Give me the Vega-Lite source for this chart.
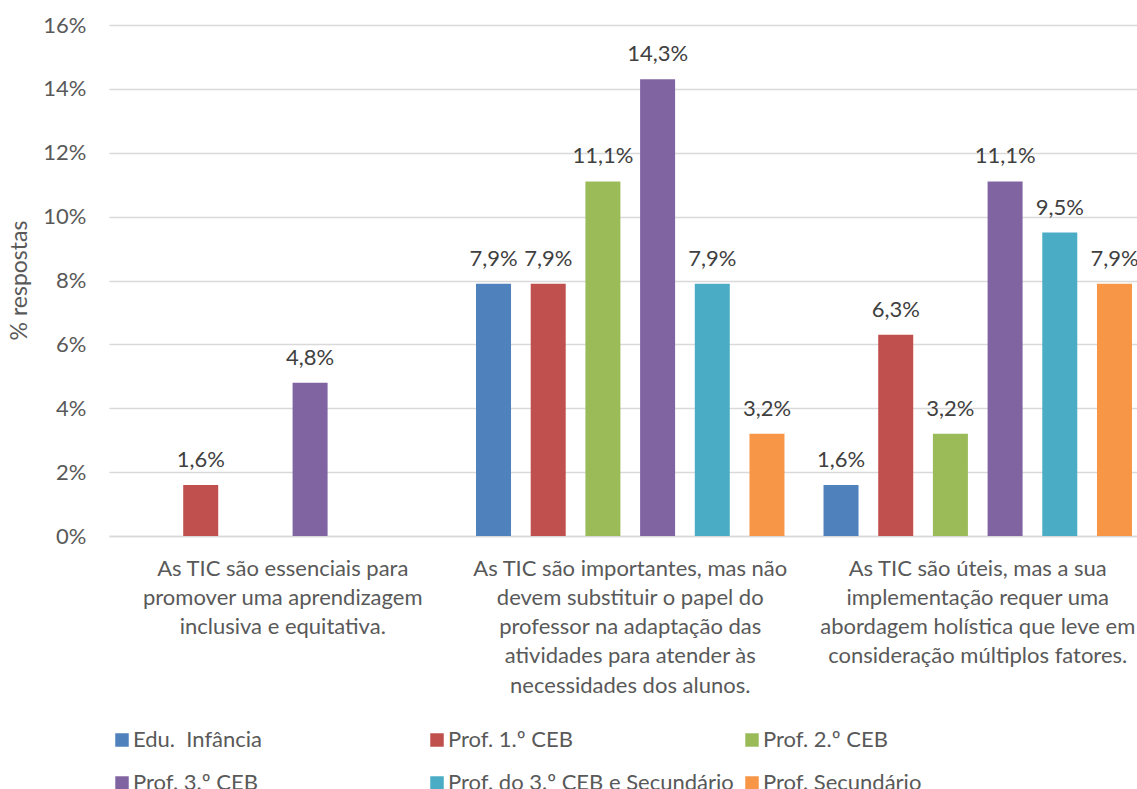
{
  "$schema": "https://vega.github.io/schema/vega-lite/v6.json",
  "autosize": {"type": "none"},
  "padding": {"left": 109, "top": 25, "right": 0, "bottom": 253},
  "width": 1028,
  "height": 511,
  "background": "white",
  "data": {
    "values": [
      {"pergunta": "As TIC são essenciais para promover uma aprendizagem inclusiva e equitativa.", "grupo": "Prof. 1.º CEB", "pct": 0.016},
      {"pergunta": "As TIC são essenciais para promover uma aprendizagem inclusiva e equitativa.", "grupo": "Prof. 3.º CEB", "pct": 0.048},
      {"pergunta": "As TIC são importantes, mas não devem substituir o papel do professor na adaptação das atividades para atender às necessidades dos alunos.", "grupo": "Edu.  Infância", "pct": 0.079},
      {"pergunta": "As TIC são importantes, mas não devem substituir o papel do professor na adaptação das atividades para atender às necessidades dos alunos.", "grupo": "Prof. 1.º CEB", "pct": 0.079},
      {"pergunta": "As TIC são importantes, mas não devem substituir o papel do professor na adaptação das atividades para atender às necessidades dos alunos.", "grupo": "Prof. 2.º CEB", "pct": 0.111},
      {"pergunta": "As TIC são importantes, mas não devem substituir o papel do professor na adaptação das atividades para atender às necessidades dos alunos.", "grupo": "Prof. 3.º CEB", "pct": 0.143},
      {"pergunta": "As TIC são importantes, mas não devem substituir o papel do professor na adaptação das atividades para atender às necessidades dos alunos.", "grupo": "Prof. do 3.º CEB e Secundário", "pct": 0.079},
      {"pergunta": "As TIC são importantes, mas não devem substituir o papel do professor na adaptação das atividades para atender às necessidades dos alunos.", "grupo": "Prof. Secundário", "pct": 0.032},
      {"pergunta": "As TIC são úteis, mas a sua implementação requer uma abordagem holística que leve em consideração múltiplos fatores.", "grupo": "Edu.  Infância", "pct": 0.016},
      {"pergunta": "As TIC são úteis, mas a sua implementação requer uma abordagem holística que leve em consideração múltiplos fatores.", "grupo": "Prof. 1.º CEB", "pct": 0.063},
      {"pergunta": "As TIC são úteis, mas a sua implementação requer uma abordagem holística que leve em consideração múltiplos fatores.", "grupo": "Prof. 2.º CEB", "pct": 0.032},
      {"pergunta": "As TIC são úteis, mas a sua implementação requer uma abordagem holística que leve em consideração múltiplos fatores.", "grupo": "Prof. 3.º CEB", "pct": 0.111},
      {"pergunta": "As TIC são úteis, mas a sua implementação requer uma abordagem holística que leve em consideração múltiplos fatores.", "grupo": "Prof. do 3.º CEB e Secundário", "pct": 0.095},
      {"pergunta": "As TIC são úteis, mas a sua implementação requer uma abordagem holística que leve em consideração múltiplos fatores.", "grupo": "Prof. Secundário", "pct": 0.079}
    ]
  },
  "encoding": {
    "x": {
      "field": "pergunta",
      "type": "nominal",
      "sort": null,
      "scale": {"paddingInner": 0, "paddingOuter": 0, "range": [0, 1042.5]},
      "axis": {
        "title": null,
        "labelAngle": 0,
        "labelFont": "Lato",
        "labelFontSize": 22,
        "labelColor": "#595959",
        "labelLimit": 0,
        "labelLineHeight": 29.3,
        "labelBaseline": "alphabetic",
        "labelPadding": 39,
        "ticks": false,
        "domain": true,
        "domainColor": "#d9d9d9",
        "domainWidth": 1.3,
        "labelExpr": "datum.value == 'As TIC são essenciais para promover uma aprendizagem inclusiva e equitativa.' ? ['As TIC são essenciais para', 'promover uma aprendizagem', 'inclusiva e equitativa.'] : datum.value == 'As TIC são importantes, mas não devem substituir o papel do professor na adaptação das atividades para atender às necessidades dos alunos.' ? ['As TIC são importantes, mas não', 'devem substituir o papel do', 'professor na adaptação das', 'atividades para atender às', 'necessidades dos alunos.'] : ['As TIC são úteis, mas a sua', 'implementação requer uma', 'abordagem holística que leve em', 'consideração múltiplos fatores.']"
      }
    },
    "xOffset": {
      "field": "grupo",
      "type": "nominal",
      "scale": {
        "domain": ["Edu.  Infância", "Prof. 1.º CEB", "Prof. 2.º CEB", "Prof. 3.º CEB", "Prof. do 3.º CEB e Secundário", "Prof. Secundário"],
        "paddingInner": 0.36,
        "paddingOuter": 0.357
      }
    },
    "y": {
      "field": "pct",
      "type": "quantitative",
      "scale": {"domain": [0, 0.16], "nice": false},
      "axis": {
        "values": [0, 0.02, 0.04, 0.06, 0.08, 0.1, 0.12, 0.14, 0.16],
        "format": ".0%",
        "title": "% respostas",
        "titleFont": "Lato",
        "titleFontSize": 23,
        "titleFontWeight": "normal",
        "titleColor": "#595959",
        "titleX": -78,
        "titleY": 255,
        "titleAngle": -90,
        "titleAlign": "center",
        "titleBaseline": "bottom",
        "labelFont": "Lato",
        "labelFontSize": 22,
        "labelColor": "#595959",
        "labelPadding": 23,
        "ticks": false,
        "domain": false,
        "grid": true,
        "gridColor": "#d9d9d9",
        "gridWidth": 1.3
      }
    }
  },
  "layer": [
    {
      "mark": {"type": "bar"},
      "encoding": {
        "color": {
          "field": "grupo",
          "type": "nominal",
          "scale": {
            "domain": ["Edu.  Infância", "Prof. 1.º CEB", "Prof. 2.º CEB", "Prof. 3.º CEB", "Prof. do 3.º CEB e Secundário", "Prof. Secundário"],
            "range": ["#4f81bd", "#c0504d", "#9bbb59", "#8064a2", "#4bacc6", "#f79646"]
          },
          "legend": {
            "title": null,
            "orient": "none",
            "legendX": 2,
            "legendY": 704,
            "direction": "horizontal",
            "columns": 3,
            "gridAlign": "all",
            "columnPadding": 7,
            "rowPadding": 21,
            "padding": 0,
            "symbolType": "square",
            "symbolSize": 182,
            "symbolStrokeWidth": 0,
            "symbolOpacity": 1,
            "labelOffset": 0,
            "labelFont": "Lato",
            "labelFontSize": 22,
            "labelColor": "#595959",
            "labelLimit": 0,
            "labelExpr": "datum.label == 'Edu.  Infância' ? 'Edu.\u00a0 Infância' : datum.label"
          }
        }
      }
    },
    {
      "mark": {
        "type": "text",
        "baseline": "alphabetic",
        "dy": -18,
        "font": "Lato",
        "fontSize": 22,
        "color": "#404040"
      },
      "encoding": {
        "text": {"field": "pct", "type": "quantitative", "format": ".1%"}
      }
    }
  ],
  "config": {
    "locale": {
      "number": {"decimal": ",", "thousands": ".", "grouping": [3], "currency": ["", " €"]}
    },
    "view": {"stroke": null}
  }
}
